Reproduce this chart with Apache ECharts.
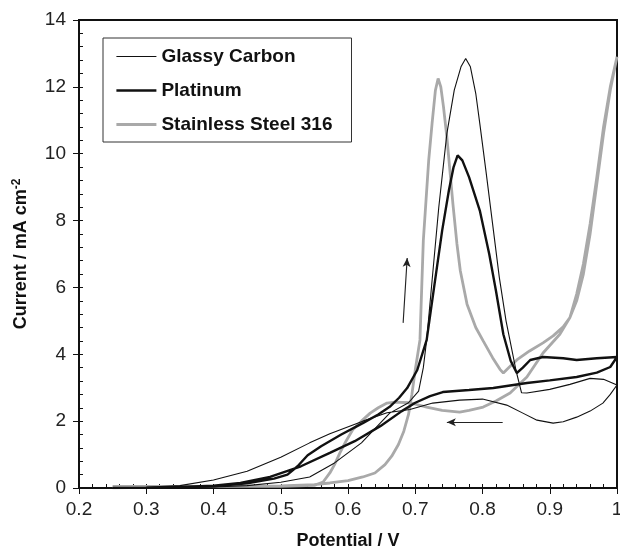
<!DOCTYPE html>
<html><head><meta charset="utf-8">
<script src="https://cdn.jsdelivr.net/npm/echarts@6/dist/echarts.min.js"></script>
<style>html,body{margin:0;padding:0;background:#fff}#c{width:620px;height:549px}</style>
</head><body><div id="c"></div>
<script>
const seriesNames = ['Glassy Carbon', 'Platinum', 'Stainless Steel 316'];
const xTicks = [0.2, 0.3, 0.4, 0.5, 0.6, 0.7, 0.8, 0.9, 1];
const yTicks = [0, 2, 4, 6, 8, 10, 12, 14];

const gcPotential = [0.25,0.30,0.35,0.40,0.45,0.50,0.543,0.58,0.62,0.662,0.69,0.705,0.712,0.717,0.725,0.735,0.747,0.758,0.768,0.775,0.782,0.79,0.796,0.805,0.815,0.825,0.835,0.841,0.85,0.858,0.866,0.90,0.93,0.96,0.98,1.00,
  0.99,0.979,0.96,0.94,0.92,0.905,0.881,0.86,0.836,0.80,0.766,0.726,0.692,0.658,0.622,0.573,0.543,0.50,0.45,0.40,0.35,0.30,0.25];
const gcCurrent = [0.00,0.00,0.01,0.03,0.07,0.17,0.33,0.75,1.35,2.24,2.55,2.9,3.6,4.43,6.2,8.4,10.6,11.9,12.6,12.85,12.6,11.8,10.9,9.5,7.9,6.3,5.0,4.4,3.5,2.85,2.84,2.95,3.1,3.28,3.25,3.08,
  2.8,2.54,2.3,2.12,1.98,1.94,2.03,2.24,2.48,2.66,2.63,2.54,2.35,2.25,2.0,1.62,1.35,0.92,0.5,0.24,0.07,0.02,0.0];

const ptPotential = [0.25,0.30,0.35,0.40,0.45,0.49,0.51,0.525,0.54,0.56,0.59,0.622,0.645,0.662,0.676,0.688,0.703,0.717,0.728,0.74,0.75,0.757,0.763,0.77,0.78,0.796,0.81,0.82,0.831,0.842,0.851,0.86,0.871,0.89,0.92,0.94,0.97,1.0,
  0.99,0.97,0.94,0.90,0.866,0.816,0.78,0.741,0.722,0.70,0.68,0.648,0.61,0.573,0.53,0.484,0.44,0.40,0.35,0.30,0.25];
const ptCurrent = [0.0,0.01,0.02,0.05,0.14,0.28,0.4,0.65,0.98,1.25,1.6,1.94,2.2,2.43,2.7,2.99,3.53,4.43,6.0,7.7,8.9,9.6,9.95,9.8,9.3,8.3,7.0,5.9,4.6,3.8,3.44,3.6,3.83,3.92,3.88,3.83,3.88,3.92,
  3.62,3.45,3.32,3.22,3.14,2.99,2.93,2.87,2.75,2.55,2.3,1.85,1.4,1.05,0.65,0.33,0.15,0.07,0.03,0.01,0.0];

const ssPotential = [0.25,0.30,0.40,0.50,0.55,0.573,0.60,0.622,0.64,0.655,0.665,0.675,0.683,0.69,0.695,0.70,0.707,0.712,0.716,0.72,0.725,0.73,0.734,0.738,0.742,0.747,0.752,0.756,0.762,0.767,0.777,0.79,0.801,0.815,0.826,0.831,0.84,0.851,0.87,0.89,0.905,0.92,0.93,0.94,0.95,0.96,0.97,0.98,0.99,1.0,
  0.99,0.98,0.97,0.96,0.95,0.94,0.93,0.915,0.89,0.866,0.841,0.82,0.801,0.78,0.766,0.74,0.717,0.692,0.67,0.658,0.645,0.633,0.62,0.607,0.597,0.588,0.58,0.573,0.563,0.55,0.50,0.40,0.30,0.25];
const ssCurrent = [0.05,0.05,0.05,0.06,0.1,0.15,0.22,0.33,0.45,0.7,0.95,1.3,1.7,2.2,2.8,3.53,4.43,7.4,8.6,9.8,10.9,11.9,12.25,12.0,11.4,10.5,9.4,8.5,7.3,6.5,5.5,4.8,4.4,3.9,3.55,3.44,3.62,3.83,4.1,4.34,4.55,4.82,5.1,5.6,6.4,7.6,9.1,10.6,11.9,12.9,
  12.0,10.8,9.3,7.9,6.7,5.8,5.1,4.6,4.04,3.32,2.84,2.6,2.42,2.32,2.27,2.32,2.42,2.55,2.57,2.54,2.4,2.24,2.0,1.74,1.4,1.05,0.7,0.45,0.18,0.08,0.05,0.05,0.05,0.05];

const arrowUp = [[0.682, 4.94], [0.688, 6.88]];
const arrowLeft = [[0.830, 1.97], [0.747, 1.97]];

function zip(xs, ys) { return xs.map((x, i) => [x, ys[i]]); }

const FONT = 'Liberation Sans, Arial, sans-serif';
const chart = echarts.init(document.getElementById('c'), null, {renderer: 'canvas'});
chart.setOption({
  animation: false,
  backgroundColor: '#fff',
  grid: {left: 79, top: 20, width: 538, height: 468, show: true, borderColor: '#111', borderWidth: 2,
    backgroundColor: 'transparent', containLabel: false, outerBoundsMode: 'none'},
  legend: {
    orient: 'vertical', left: 103, top: 38,
    data: seriesNames,
    itemWidth: 40, itemHeight: 14, itemGap: 15,
    padding: [9, 19, 8, 12],
    borderColor: '#333', borderWidth: 1, backgroundColor: '#fff',
    itemStyle: {opacity: 0},
    lineStyle: {width: 'inherit'},
    textStyle: {fontFamily: FONT, fontSize: 19, fontWeight: 'bold', color: '#111'},
    selectedMode: false
  },
  xAxis: [{
    type: 'value', min: xTicks[0], max: xTicks[xTicks.length - 1], interval: 0.1,
    name: 'Potential / V', nameLocation: 'middle', nameGap: 44,
    nameTextStyle: {fontFamily: FONT, fontSize: 18, fontWeight: 'bold', color: '#111'},
    axisLine: {lineStyle: {color: '#111', width: 2}},
    axisTick: {inside: false, length: 6, lineStyle: {color: '#111', width: 1}},
    axisLabel: {fontFamily: FONT, fontSize: 19, color: '#222', margin: 12,
      formatter: v => { const t = xTicks.find(x => Math.abs(x - v) < 1e-6); return t === undefined ? '' : String(t); }},
    splitLine: {show: false}
  }, {
    type: 'value', min: 0.2, max: 1.0, interval: 0.02, position: 'bottom',
    axisLine: {show: false}, axisLabel: {show: false}, splitLine: {show: false},
    axisTick: {inside: true, length: 4, lineStyle: {color: '#111', width: 1}}
  }],
  yAxis: [{
    type: 'value', min: yTicks[0], max: yTicks[yTicks.length - 1], interval: 2,
    name: 'Current / mA cm{sup|-2}', nameLocation: 'middle', nameGap: 47,
    nameTextStyle: {fontFamily: FONT, fontSize: 18, fontWeight: 'bold', color: '#111',
      rich: {sup: {fontFamily: FONT, fontSize: 12, fontWeight: 'bold', color: '#111', verticalAlign: 'bottom', padding: [0, 0, 9, 0]}}},
    axisLine: {lineStyle: {color: '#111', width: 2}},
    axisTick: {inside: false, length: 6, lineStyle: {color: '#111', width: 1}},
    axisLabel: {fontFamily: FONT, fontSize: 19, color: '#222', margin: 13},
    splitLine: {show: false}
  }, {
    type: 'value', min: 0, max: 14, interval: 0.4, position: 'left',
    axisLine: {show: false}, axisLabel: {show: false}, splitLine: {show: false},
    axisTick: {inside: true, length: 4, lineStyle: {color: '#111', width: 1}}
  }],
  series: [{
    name: seriesNames[2], type: 'line', xAxisIndex: 0, yAxisIndex: 0,
    data: zip(ssPotential, ssCurrent), symbol: 'none', smooth: false,
    lineStyle: {color: '#a9a9a9', width: 2.8}, itemStyle: {color: '#a9a9a9'}
  }, {
    name: seriesNames[1], type: 'line', xAxisIndex: 0, yAxisIndex: 0,
    data: zip(ptPotential, ptCurrent), symbol: 'none',
    lineStyle: {color: '#111', width: 2.4}, itemStyle: {color: '#111'}
  }, {
    name: seriesNames[0], type: 'line', xAxisIndex: 0, yAxisIndex: 0,
    data: zip(gcPotential, gcCurrent), symbol: 'none',
    lineStyle: {color: '#111', width: 1.1}, itemStyle: {color: '#111'},
    markLine: {
      silent: true, symbol: ['none', 'arrow'], symbolSize: [6, 9],
      label: {show: false},
      lineStyle: {color: '#222', width: 1.1, type: 'solid'},
      data: [
        [{coord: arrowUp[0]}, {coord: arrowUp[1]}],
        [{coord: arrowLeft[0]}, {coord: arrowLeft[1]}]
      ]
    }
  }]
});
</script></body></html>
